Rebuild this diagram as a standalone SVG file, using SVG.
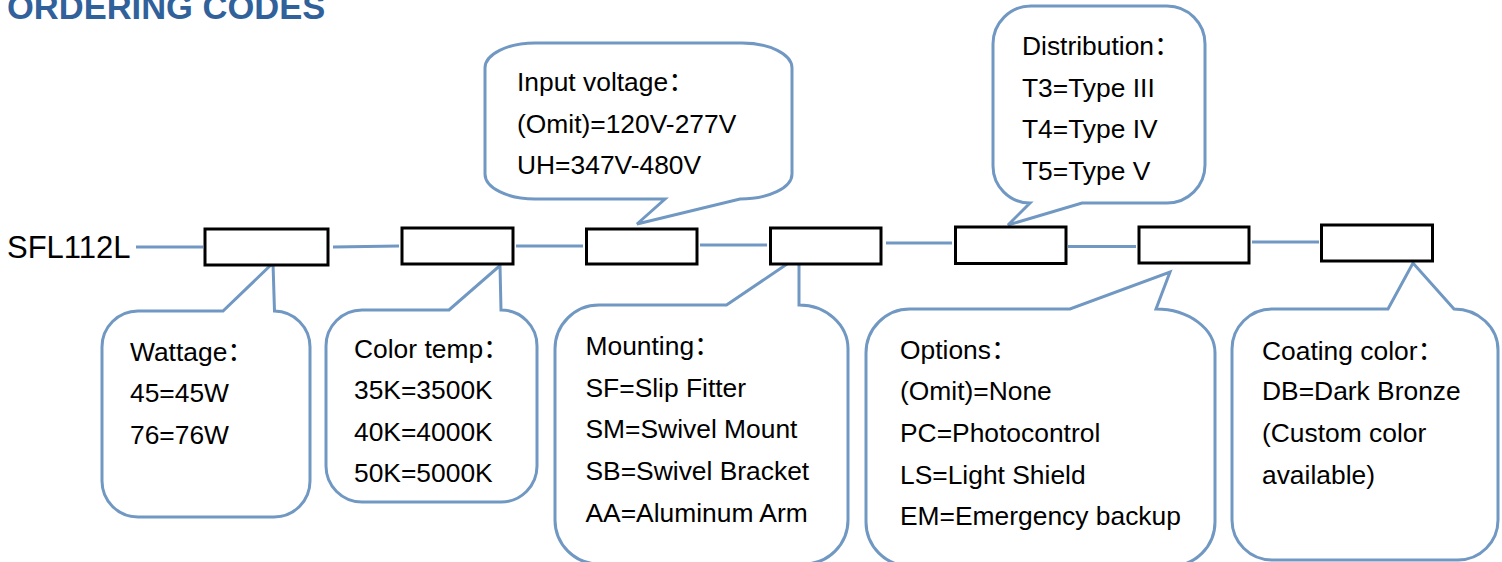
<svg xmlns="http://www.w3.org/2000/svg" width="1502" height="562" viewBox="0 0 1502 562">
<style>
.t{font-family:"Liberation Sans","Noto Sans CJK SC",Arial,sans-serif;font-size:26.4px;fill:#000}
.c{fill:#fff;stroke:#7098C3;stroke-width:3;stroke-linejoin:miter}
.l{fill:none;stroke:#7098C3;stroke-width:3}
.b{fill:#fff;stroke:#000;stroke-width:3}
</style>
<rect width="1502" height="562" fill="#fff"/>
<text x="7" y="18.5" style="font-family:'Liberation Sans',Arial,sans-serif;font-weight:bold;font-size:34.5px;fill:#31619B">ORDERING CODES</text>
<text x="7" y="258" style="font-family:'Liberation Sans',Arial,sans-serif;font-size:31px;fill:#000">SFL112L</text>
<g id="connectors">
<path class="l" d="M136 247 H203"/>
<path class="l" d="M333 247 L399 246"/>
<path class="l" d="M516 246 H583"/>
<path class="l" d="M700 245 H767"/>
<path class="l" d="M886 243 H952"/>
<path class="l" d="M1068 246.5 H1136"/>
<path class="l" d="M1252 242 H1319"/>
</g>
<g id="callout-input">
<path class="c" d="M535 43 H742 A50 25 0 0 1 792 68 V174 A52 25 0 0 1 740 199 L637 224 L665 199 H535 A50 25 0 0 1 485 174 V68 A50 25 0 0 1 535 43 Z"/>
<text class="t" x="517" y="91">Input voltage：</text>
<text class="t" x="517" y="132.5">(Omit)=120V-277V</text>
<text class="t" x="517" y="174">UH=347V-480V</text>
</g>
<g id="callout-distribution">
<path class="c" d="M1031 6 H1167 A38 38 0 0 1 1205 44 V165 A38 38 0 0 1 1167 203 H1082 L1008 225 L1030 203 A37 37 0 0 1 993 166 V44 A38 38 0 0 1 1031 6 Z"/>
<text class="t" x="1022" y="54.5">Distribution：</text>
<text class="t" x="1022" y="96.5">T3=Type III</text>
<text class="t" x="1022" y="138">T4=Type IV</text>
<text class="t" x="1022" y="179.5">T5=Type V</text>
</g>
<g id="callout-wattage">
<path class="c" d="M138 311 H223 L273 263 L274.5 311 A36 36 0 0 1 310 347 V481 A36 36 0 0 1 274 517 H138 A36 36 0 0 1 102 481 V347 A36 36 0 0 1 138 311 Z"/>
<text class="t" x="130" y="361">Wattage：</text>
<text class="t" x="130" y="402">45=45W</text>
<text class="t" x="130" y="443.5">76=76W</text>
</g>
<g id="callout-colortemp">
<path class="c" d="M362 310 H449 L500 265.5 L501 310 A36 36 0 0 1 537 346 V466 A36 36 0 0 1 501 502 H362 A36 36 0 0 1 326 466 V346 A36 36 0 0 1 362 310 Z"/>
<text class="t" x="354" y="357.5">Color temp：</text>
<text class="t" x="354" y="399">35K=3500K</text>
<text class="t" x="354" y="440.5">40K=4000K</text>
<text class="t" x="354" y="482">50K=5000K</text>
</g>
<g id="callout-mounting">
<path class="c" d="M599 305 H726.5 L790 262 L799 262 L799 305 A49 44 0 0 1 848 349 V520 A44 44 0 0 1 804 564 H599 A44 44 0 0 1 555 520 V349 A44 44 0 0 1 599 305 Z"/>
<text class="t" x="585.5" y="355">Mounting：</text>
<text class="t" x="585.5" y="396.5">SF=Slip Fitter</text>
<text class="t" x="585.5" y="438">SM=Swivel Mount</text>
<text class="t" x="585.5" y="480">SB=Swivel Bracket</text>
<text class="t" x="585.5" y="521.5">AA=Aluminum Arm</text>
</g>
<g id="callout-options">
<path class="c" d="M910 309 H1070 L1170 272 L1156 309 A59 44 0 0 1 1215 353 V522 A44 44 0 0 1 1171 566 H910 A44 44 0 0 1 866 522 V353 A44 44 0 0 1 910 309 Z"/>
<text class="t" x="900" y="358.5">Options：</text>
<text class="t" x="900" y="400">(Omit)=None</text>
<text class="t" x="900" y="441.5">PC=Photocontrol</text>
<text class="t" x="900" y="483.5">LS=Light Shield</text>
<text class="t" x="900" y="525">EM=Emergency backup</text>
</g>
<g id="callout-coating">
<path class="c" d="M1272 309 H1388 L1413 263 L1454 309 A44 41 0 0 1 1498 350 V520 A40 40 0 0 1 1458 560 H1272 A40 40 0 0 1 1232 520 V349 A40 40 0 0 1 1272 309 Z"/>
<text class="t" x="1262" y="359.5">Coating color：</text>
<text class="t" x="1262" y="400">DB=Dark Bronze</text>
<text class="t" x="1262" y="442">(Custom color</text>
<text class="t" x="1262" y="483.5">available)</text>
</g>
<g id="box1"><rect class="b" x="205" y="229" width="123" height="36"/></g>
<g id="box2"><rect class="b" x="402" y="228" width="111" height="36"/></g>
<g id="box3"><rect class="b" x="586.5" y="229" width="110.5" height="35"/></g>
<g id="box4"><rect class="b" x="770.5" y="228" width="110.5" height="36"/></g>
<g id="box5"><rect class="b" x="955.5" y="227" width="110.5" height="36.5"/></g>
<g id="box6"><rect class="b" x="1139" y="227" width="110" height="36"/></g>
<g id="box7"><rect class="b" x="1321.5" y="225" width="111" height="36"/></g>
</svg>
